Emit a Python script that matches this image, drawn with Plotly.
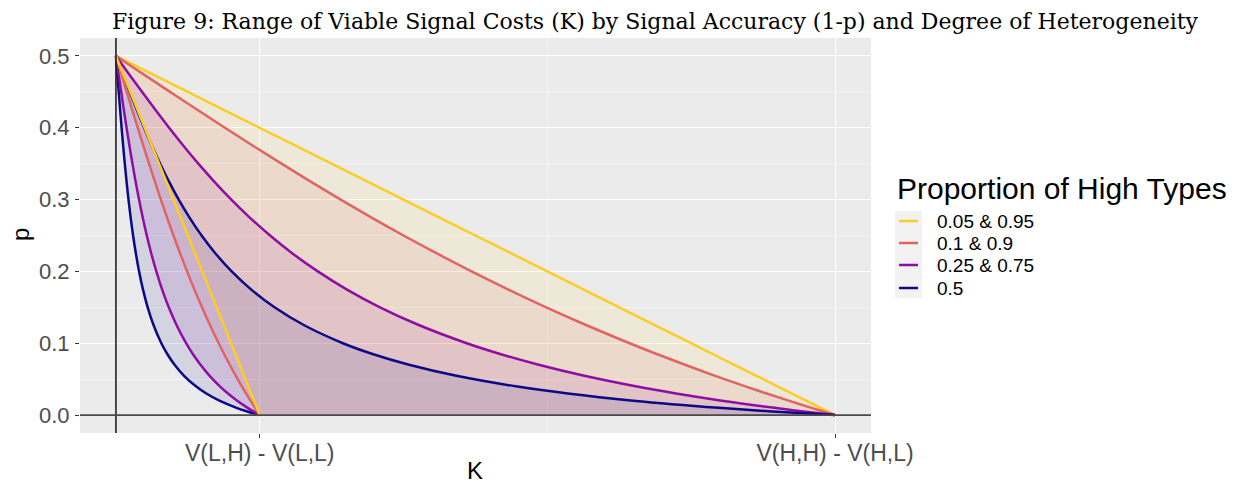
import plotly.graph_objects as go

# signal error p (shared grid for every curve)
p_vals = [0.5, 0.475, 0.45, 0.425, 0.4, 0.375, 0.35, 0.325, 0.3, 0.275, 0.25, 0.225, 0.2,
          0.175, 0.15, 0.125, 0.1, 0.085, 0.07, 0.055, 0.04, 0.03, 0.02, 0.01, 0.005, 0.0]

# K as a share of the value gap for each group
k_share_05 = [0, 0.05, 0.10, 0.15, 0.20, 0.25, 0.30, 0.35, 0.40, 0.45, 0.50, 0.55, 0.60,
              0.65, 0.70, 0.75, 0.80, 0.83, 0.86, 0.89, 0.92, 0.94, 0.96, 0.98, 0.99, 1.0]
k_share_10 = [0, 0.0375, 0.0752, 0.1131, 0.1515, 0.1905, 0.2302, 0.2708, 0.3125, 0.3555,
              0.400, 0.4463, 0.4945, 0.5451, 0.5983, 0.6545, 0.7143, 0.7520, 0.7913, 0.8323,
              0.8752, 0.9049, 0.9356, 0.9672, 0.9835, 1.0]
k_share_25 = [0, 0.0180, 0.0362, 0.0548, 0.0739, 0.0938, 0.1146, 0.1367, 0.1604, 0.1861,
              0.2143, 0.2455, 0.2807, 0.3207, 0.3671, 0.4219, 0.4878, 0.5344, 0.5879, 0.6498,
              0.7227, 0.7788, 0.8426, 0.9156, 0.9562, 1.0]
k_share_50 = [0, 0.0095, 0.0192, 0.0290, 0.0393, 0.0500, 0.0615, 0.0738, 0.0873, 0.1023,
              0.1191, 0.1384, 0.1609, 0.1878, 0.2205, 0.2618, 0.3156, 0.3568, 0.4076, 0.4718,
              0.5560, 0.6283, 0.7195, 0.8385, 0.9126, 1.0]

groups = ["0.05 & 0.95", "0.1 & 0.9", "0.25 & 0.75", "0.5"]
shares = [k_share_05, k_share_10, k_share_25, k_share_50]
colors = ["#FCCE25", "#E16462", "#8F0DA4", "#0D0887"]
fills = ["rgba(252,206,37,0.10)", "rgba(225,100,98,0.10)",
         "rgba(143,13,164,0.10)", "rgba(13,8,135,0.10)"]

# value gaps V(L,H)-V(L,L) and V(H,H)-V(H,L)
gap_low = 0.2
gap_high = 1.0
tick_labels = ["V(L,H) - V(L,L)", "V(H,H) - V(H,L)"]

# figure geometry (pixels; the page adds an 8px body margin)
W, H = 1237, 478
L, T, R, B = 72, 30, 374, 53
PW, PH = W - L - R, H - T - B


def px(x):
    return (x - L) / PW


def py(y):
    return (H - B - y) / PH


fig = go.Figure()

# ribbons between the low-gap and high-gap curve of each group
for name, sh, fc in zip(groups, shares, fills):
    fig.add_trace(go.Scatter(x=[s * gap_low for s in sh], y=p_vals, mode="lines",
                             line=dict(width=0, shape="spline"), showlegend=False,
                             hoverinfo="skip"))
    fig.add_trace(go.Scatter(x=[s * gap_high for s in sh], y=p_vals, mode="lines",
                             line=dict(width=0, shape="spline"), fill="tonextx",
                             fillcolor=fc, showlegend=False, hoverinfo="skip"))

# upper curves then lower curves on top
for name, sh, col in zip(groups, shares, colors):
    fig.add_trace(go.Scatter(x=[s * gap_high for s in sh], y=p_vals, mode="lines",
                             line=dict(color=col, width=2.5, shape="spline"),
                             name=name, showlegend=False))
for name, sh, col in zip(groups[::-1], shares[::-1], colors[::-1]):
    fig.add_trace(go.Scatter(x=[s * gap_low for s in sh], y=p_vals, mode="lines",
                             line=dict(color=col, width=2.5, shape="spline"),
                             name=name, showlegend=False))

# reference lines at K = 0 and p = 0
fig.add_shape(type="line", x0=0, x1=0, y0=0, y1=1, xref="x", yref="y domain",
              line=dict(color="#222222", width=1.6))
fig.add_shape(type="line", x0=0, x1=1, y0=0, y1=0, xref="x domain", yref="y",
              line=dict(color="#4A4A4A", width=1.8))

# legend drawn by hand (ggplot style)
fig.add_shape(type="rect", xref="paper", yref="paper", x0=px(887), x1=px(914),
              y0=py(290), y1=py(203), fillcolor="#F2F2F2", line=dict(width=0), layer="below")
item_y = [213, 235, 257, 280]
for name, col, yy in zip(groups, colors, item_y):
    fig.add_shape(type="line", xref="paper", yref="paper", x0=px(891), x1=px(910),
                  y0=py(yy), y1=py(yy), line=dict(color=col, width=2.5))
    fig.add_annotation(text=name, xref="paper", yref="paper", x=px(927), y=py(yy),
                       xanchor="left", yanchor="middle", showarrow=False,
                       font=dict(size=19, color="#000000"))
fig.add_annotation(text="Proportion of High Types", xref="paper", yref="paper",
                   x=px(887), y=py(180), xanchor="left", yanchor="middle", showarrow=False,
                   font=dict(size=30, color="#000000"))

# axis titles
fig.add_annotation(text="K", xref="paper", yref="paper", x=px(467), y=py(462),
                   xanchor="center", yanchor="middle", showarrow=False,
                   font=dict(size=24, color="#000000"))
fig.add_annotation(text="p", xref="paper", yref="paper", x=px(12), y=py(227),
                   xanchor="center", yanchor="middle", showarrow=False, textangle=-90,
                   font=dict(size=24, color="#000000"))

fig.update_layout(
    width=W, height=H,
    margin=dict(l=L, r=R, t=T, b=B),
    paper_bgcolor="white", plot_bgcolor="#EBEBEB",
    font=dict(family="Liberation Sans, Arial, sans-serif", color="#000000"),
    title=dict(text="Figure 9: Range of Viable Signal Costs (K) by Signal Accuracy (1-p) and Degree of Heterogeneity",
               font=dict(family="DejaVu Serif, serif", size=22, color="#000000"),
               x=647 / W, xanchor="center", xref="container",
               y=1 - 13 / H, yanchor="middle", yref="container"),
    xaxis=dict(range=[-0.05, 1.05], tickvals=[gap_low, gap_high], ticktext=tick_labels,
               showgrid=True, gridcolor="white", gridwidth=1.3, zeroline=False,
               ticks="outside", ticklen=4, tickcolor="#333333", automargin=False,
               ticklabelstandoff=-5,
               tickfont=dict(size=23, color="#4D4D4D"),
               minor=dict(tickvals=[0.6], showgrid=True, gridcolor="#F4F4F4", gridwidth=0.7)),
    yaxis=dict(range=[-0.025, 0.525], tickvals=[0, 0.1, 0.2, 0.3, 0.4, 0.5],
               ticktext=["0.0", "0.1", "0.2", "0.3", "0.4", "0.5"],
               showgrid=True, gridcolor="white", gridwidth=1.3, zeroline=False,
               ticks="outside", ticklen=4, tickcolor="#333333", automargin=False,
               ticklabelstandoff=1,
               tickfont=dict(size=22, color="#4D4D4D"),
               minor=dict(tickvals=[0.05, 0.15, 0.25, 0.35, 0.45], showgrid=True,
                          gridcolor="#F4F4F4", gridwidth=0.7)),
    showlegend=False,
)

fig.write_html("out.html")
